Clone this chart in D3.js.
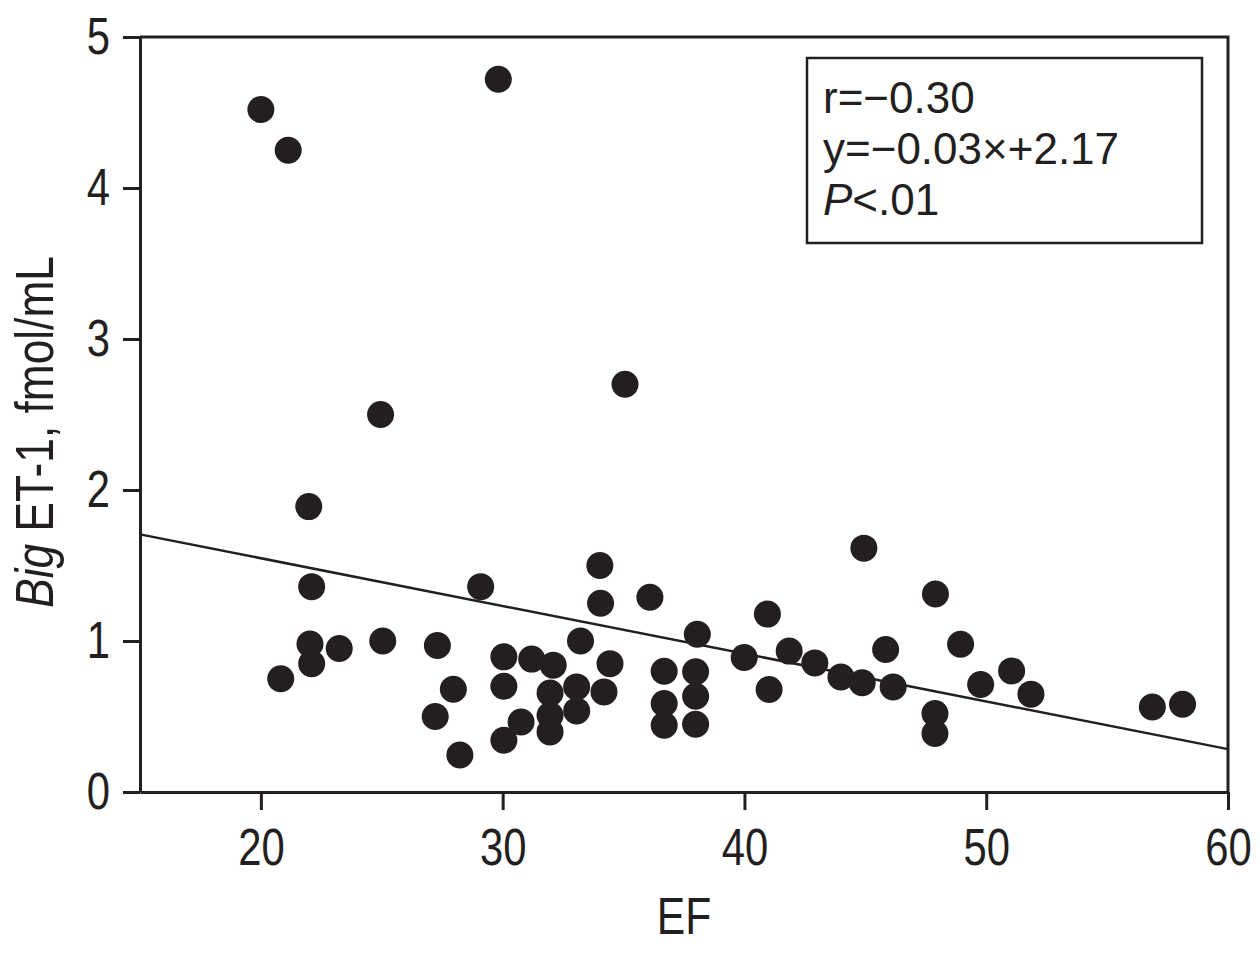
<!doctype html>
<html>
  <head>
    <meta charset="utf-8">
    <script src="https://cdn.jsdelivr.net/npm/d3@7"></script>
    <style>
      body { margin: 0; background: #fff; }
      .axis text { font-family: "Liberation Sans", Arial, sans-serif; font-size: 51px; fill: #231f20; }
      .axis path, .axis line { stroke: #231f20; stroke-width: 3; }
    </style>
  </head>
  <body>

    <svg width="1260" height="953"></svg>

  <script>

    // EF (x) and Big ET-1 (y)
    let ef = [20.0, 21.13, 29.82, 24.95, 21.98, 22.1, 22.03, 22.1, 20.82, 23.24,
              25.04, 27.3, 27.96, 27.21, 28.23, 29.09, 30.05, 30.05, 30.05, 30.76,
              31.2, 32.09, 31.96, 31.96, 31.96, 33.22, 33.06, 33.06, 34.02, 34.05,
              34.44, 34.19, 36.09, 38.05, 36.68, 36.68, 36.68, 37.98, 37.98, 37.98,
              39.99, 40.95, 41.02, 41.85, 42.91, 43.99, 44.87, 44.94, 46.15, 45.84,
              47.9, 47.88, 47.88, 48.94, 49.77, 51.05, 51.85, 56.87, 58.12, 35.06]
    let bigEt = [4.52, 4.25, 4.72, 2.50, 1.89, 1.36, 0.98, 0.85, 0.75, 0.95,
                 1.00, 0.97, 0.68, 0.50, 0.245, 1.36, 0.895, 0.70, 0.343, 0.464,
                 0.88, 0.84, 0.656, 0.508, 0.398, 1.0, 0.696, 0.537, 1.50, 1.25,
                 0.85, 0.663, 1.29, 1.045, 0.80, 0.586, 0.442, 0.796, 0.634, 0.449,
                 0.891, 1.178, 0.679, 0.933, 0.855, 0.762, 0.723, 1.615, 0.696, 0.944,
                 1.311, 0.52, 0.387, 0.979, 0.712, 0.802, 0.648, 0.563, 0.581, 2.70]

    let xTicks = [20, 30, 40, 50, 60]
    let yTicks = [0, 1, 2, 3, 4, 5]

    // fitted line as drawn
    let slope = -0.0316, intercept = 2.18
    let statLines = ["r=\u22120.30", "y=\u22120.03\u00d7+2.17"]

    let svg = d3.select("svg")
    let ink = "#231f20"
    let squeeze = 0.82   // no narrow face installed, so squeeze the regular one

    let x = d3.scaleLinear().domain([15, 60]).range([140, 1228])
    let y = d3.scaleLinear().domain([0, 5]).range([792, 37])

    svg.append("g")
        .attr("class", "axis")
        .attr("transform", "translate(0,792)")
        .call(d3.axisBottom(x).tickValues(xTicks).tickFormat(d3.format("d"))
                .tickSize(18).tickPadding(19).tickSizeOuter(0))
      .selectAll(".tick text")
        .attr("transform", `scale(${squeeze},1)`)

    let yAx = svg.append("g")
        .attr("class", "axis")
        .attr("transform", "translate(140,0)")
        .call(d3.axisLeft(y).tickValues(yTicks).tickFormat(d3.format("d"))
                .tickSize(17).tickPadding(13).tickSizeOuter(0))
    yAx.selectAll(".tick text")
        .attr("x", -30 / squeeze)
        .attr("transform", `scale(${squeeze},1)`)

    // top and right frame
    svg.append("path")
        .attr("d", `M140,${y(5)}H${x(60)}V${y(0)}`)
        .attr("fill", "none")
        .attr("stroke", ink)
        .attr("stroke-width", 3)

    let pts = ef.map((d, i) => ({ ef: d, et: bigEt[i] }))

    svg.append("g")
      .selectAll("circle")
      .data(pts)
      .enter().append("circle")
        .attr("cx", d => x(d.ef))
        .attr("cy", d => y(d.et))
        .attr("r", 13.5)
        .attr("fill", ink)

    svg.append("line")
        .attr("x1", x(15)).attr("y1", y(slope * 15 + intercept))
        .attr("x2", x(60)).attr("y2", y(slope * 60 + intercept))
        .attr("stroke", ink)
        .attr("stroke-width", 2.5)

    // axis titles
    svg.append("text")
        .attr("transform", `translate(${x(37.5)},934) scale(${squeeze},1)`)
        .attr("text-anchor", "middle")
        .style("font-family", "'Liberation Sans', Arial, sans-serif")
        .style("font-size", "52px")
        .attr("fill", ink)
        .text("EF")

    let yl = svg.append("text")
        .attr("transform", `translate(53,432) rotate(-90) scale(${squeeze},1)`)
        .attr("text-anchor", "middle")
        .style("font-family", "'Liberation Sans', Arial, sans-serif")
        .style("font-size", "54px")
        .attr("fill", ink)
    yl.append("tspan").style("font-style", "italic").text("Big")
    yl.append("tspan").text(" ET-1, fmol/mL")

    // stats box
    svg.append("rect")
        .attr("x", 807).attr("y", 58)
        .attr("width", 395).attr("height", 185)
        .attr("fill", "white")
        .attr("stroke", ink)
        .attr("stroke-width", 2.5)

    let st = svg.append("g")
        .style("font-family", "'Liberation Sans', Arial, sans-serif")
        .style("font-size", "44px")
        .attr("fill", ink)

    st.selectAll("text.stat")
      .data(statLines)
      .enter().append("text")
        .attr("class", "stat")
        .attr("x", 823)
        .attr("y", (d, i) => 113 + i * 51)
        .text(d => d)

    let pt = st.append("text").attr("x", 823).attr("y", 215)
    pt.append("tspan").style("font-style", "italic").text("P")
    pt.append("tspan").text("<.01")

  </script>
  </body>
</html>
